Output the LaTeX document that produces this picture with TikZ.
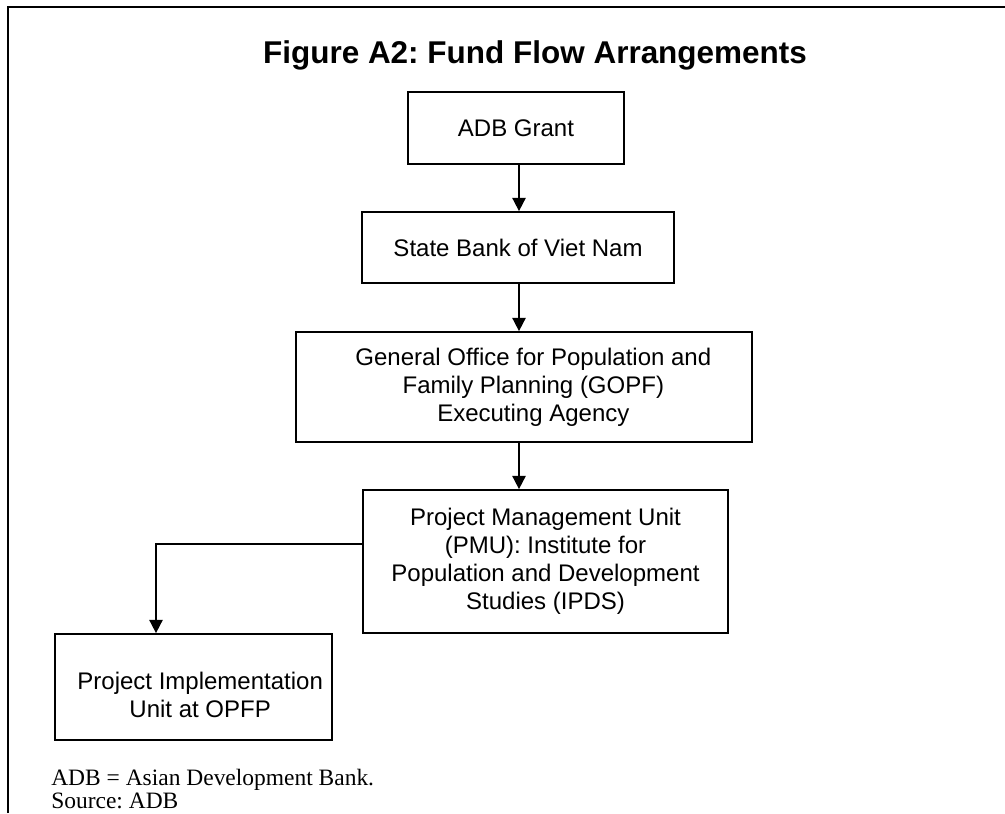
\documentclass[tikz,border=0pt]{standalone}
\usepackage{fontspec}
\setmainfont{Liberation Serif}
\setsansfont{Liberation Sans}
\usetikzlibrary{arrows.meta}
\frenchspacing
\tikzset{
  box/.style={draw,line width=1.3pt,align=center,inner sep=0pt,
    font=\sffamily\fontsize{18}{21}\selectfont},
  flow/.style={-{Triangle[width=10pt,length=10pt]},line width=1.3pt},
  note/.style={anchor=base west,inner sep=0pt,font=\rmfamily\fontsize{17.6}{19}\selectfont}
}
\begin{document}
\begin{tikzpicture}[x=0.75pt,y=-0.75pt]
\useasboundingbox (0,0) rectangle (1005,813);
% Define page frame
\draw[line width=1.5pt] (8,813) -- (8,7) -- (1005,7);

% Construct title
\node[anchor=base,inner sep=0pt,font=\sffamily\bfseries\fontsize{23.6}{28}\selectfont]
  (title) at (535,64) {Figure A2: Fund Flow Arrangements};

% Construct boxes
\node[box,minimum width=162pt,minimum height=54pt] (grant) at (516,128) {ADB Grant};
\node[box,minimum width=234pt,minimum height=53.25pt] (sbv) at (518,247.5) {State Bank of Viet Nam};
\node[box,minimum width=342pt,minimum height=82.5pt] (gopf) at (524,387)
  {\hspace*{14pt}General Office for Population and\\ \hspace*{14pt}Family Planning (GOPF)\\ \hspace*{14pt}Executing Agency};
\node[box,minimum width=273.75pt,minimum height=107.25pt] (pmu) at (545.5,561.5)
  {Project Management Unit\\ (PMU): Institute for\\ Population and Development\\ Studies (IPDS)};
\node[box,minimum width=207.75pt,minimum height=79.5pt] (piu) at (193.5,687)
  {\rule{0pt}{25pt}\hspace*{10pt}Project Implementation\\ \hspace*{10pt}Unit at OPFP};

% Define main flow line and branch point
\coordinate (spine) at (519,0);
\coordinate (tap) at (156,544);

% Construct flow arrows
\draw[flow] (grant.south -| spine) -- (sbv.north -| spine);
\draw[flow] (sbv.south -| spine) -- (gopf.north -| spine);
\draw[flow] (gopf.south -| spine) -- (pmu.north -| spine);
\draw[flow] (pmu.west |- tap) -- (tap) -- (tap |- piu.north);

% Notes
\node[note] (abbr) at (51,785) {ADB = Asian Development Bank.};
\node[note] (source) at (51,808) {Source: ADB};
\end{tikzpicture}
\end{document}
